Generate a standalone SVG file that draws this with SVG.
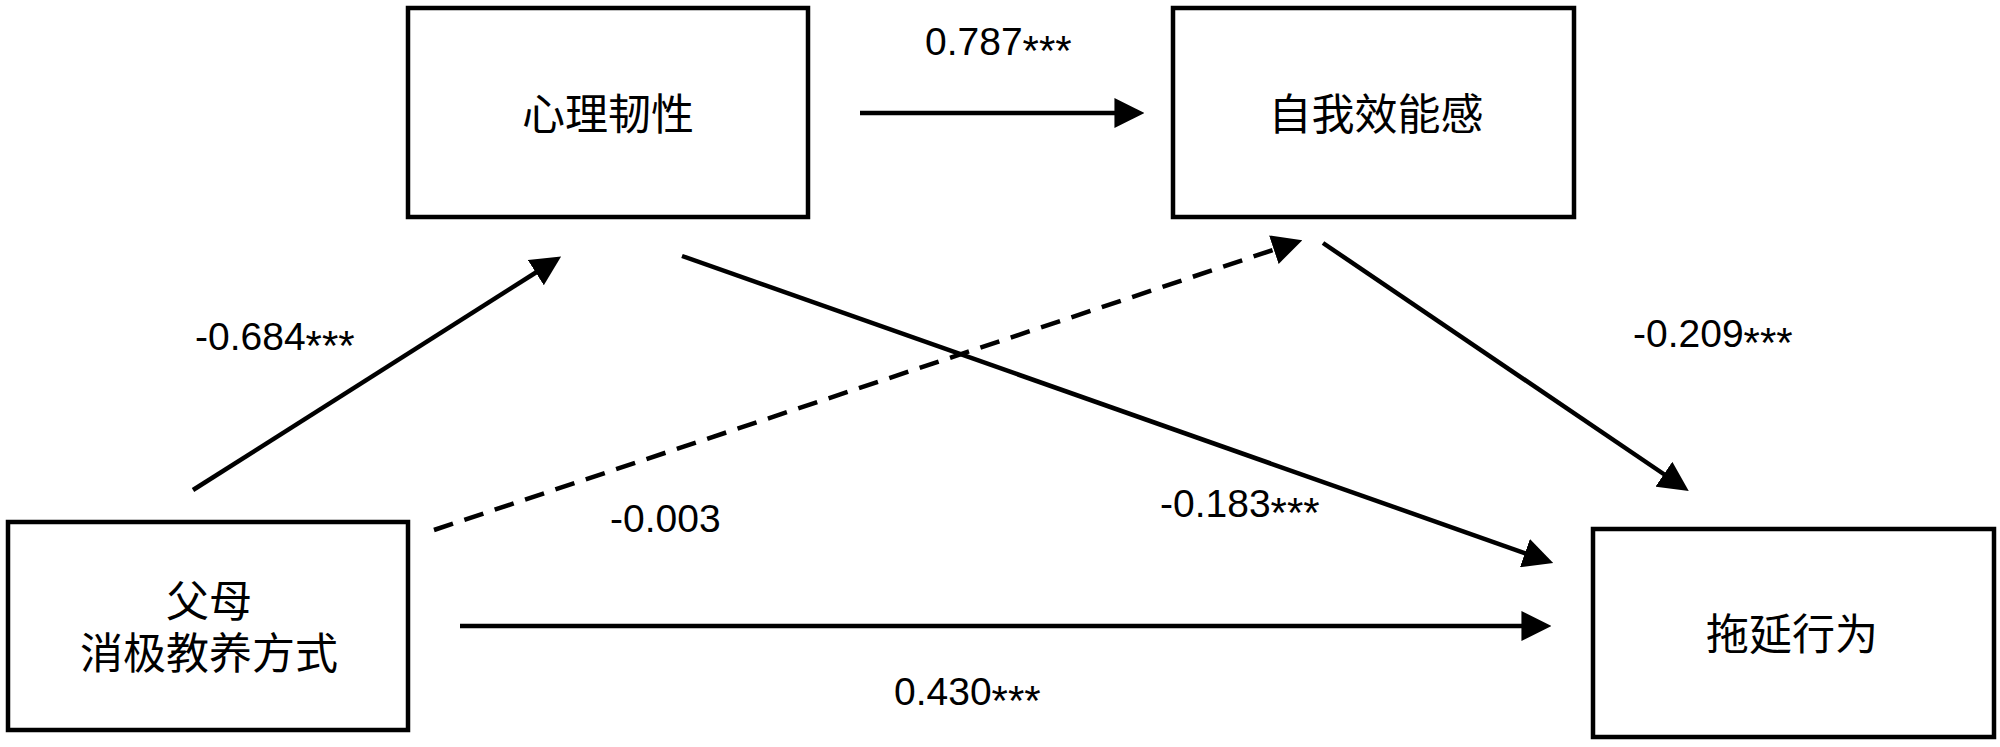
<svg xmlns="http://www.w3.org/2000/svg" width="2000" height="747" viewBox="0 0 2000 747">
<style>
.box{fill:#fff;stroke:#000;stroke-width:4.5}
.cn{font-family:"Noto Sans CJK SC","Noto Sans",sans-serif;font-size:43px;fill:#000;text-anchor:middle}
.num{font-family:"Liberation Sans",Arial,sans-serif;font-size:39px;fill:#000}
.st{font-size:42px}
.ln{stroke:#000;stroke-width:4.5;fill:none;marker-end:url(#ah)}
.dash{stroke-dasharray:20 12}
</style>
<defs>
<marker id="ah" markerUnits="userSpaceOnUse" markerWidth="30" markerHeight="30" refX="8" refY="14" orient="auto" viewBox="0 0 28 28">
<path d="M0,0 L28,14 L0,28 z" fill="#000"/>
</marker>
</defs>
<rect width="2000" height="747" fill="#fff"/>
<g id="node-resilience">
<rect class="box" x="408" y="8" width="400" height="209"/>
<text class="cn" x="608" y="130">心理韧性</text>
</g>
<g id="node-efficacy">
<rect class="box" x="1173" y="8" width="401" height="209"/>
<text class="cn" x="1376" y="130">自我效能感</text>
</g>
<g id="node-parenting">
<rect class="box" x="8" y="522" width="400" height="208"/>
<text class="cn" x="209" y="617">父母<tspan x="209" dy="52">消极教养方式</tspan></text>
</g>
<g id="node-procrastination">
<rect class="box" x="1593" y="529" width="401" height="208"/>
<text class="cn" x="1792" y="650">拖延行为</text>
</g>
<g id="connectors">
<line class="ln" x1="860" y1="113" x2="1123" y2="113"/>
<line class="ln" x1="193" y1="490" x2="543" y2="268"/>
<line class="ln" x1="682" y1="256" x2="1533" y2="556"/>
<line class="ln dash" x1="434" y1="530" x2="1282" y2="247"/>
<line class="ln" x1="1323" y1="243" x2="1671" y2="479"/>
<line class="ln" x1="460" y1="626" x2="1530" y2="626"/>
</g>
<g id="labels">
<text class="num" x="925" y="55">0.787<tspan class="st" dy="10">***</tspan></text>
<text class="num" x="195" y="350">-0.684<tspan class="st" dy="10">***</tspan></text>
<text class="num" x="610" y="532">-0.003</text>
<text class="num" x="1160" y="517">-0.183<tspan class="st" dy="10">***</tspan></text>
<text class="num" x="1633" y="347">-0.209<tspan class="st" dy="10">***</tspan></text>
<text class="num" x="894" y="705">0.430<tspan class="st" dy="10">***</tspan></text>
</g>
</svg>
